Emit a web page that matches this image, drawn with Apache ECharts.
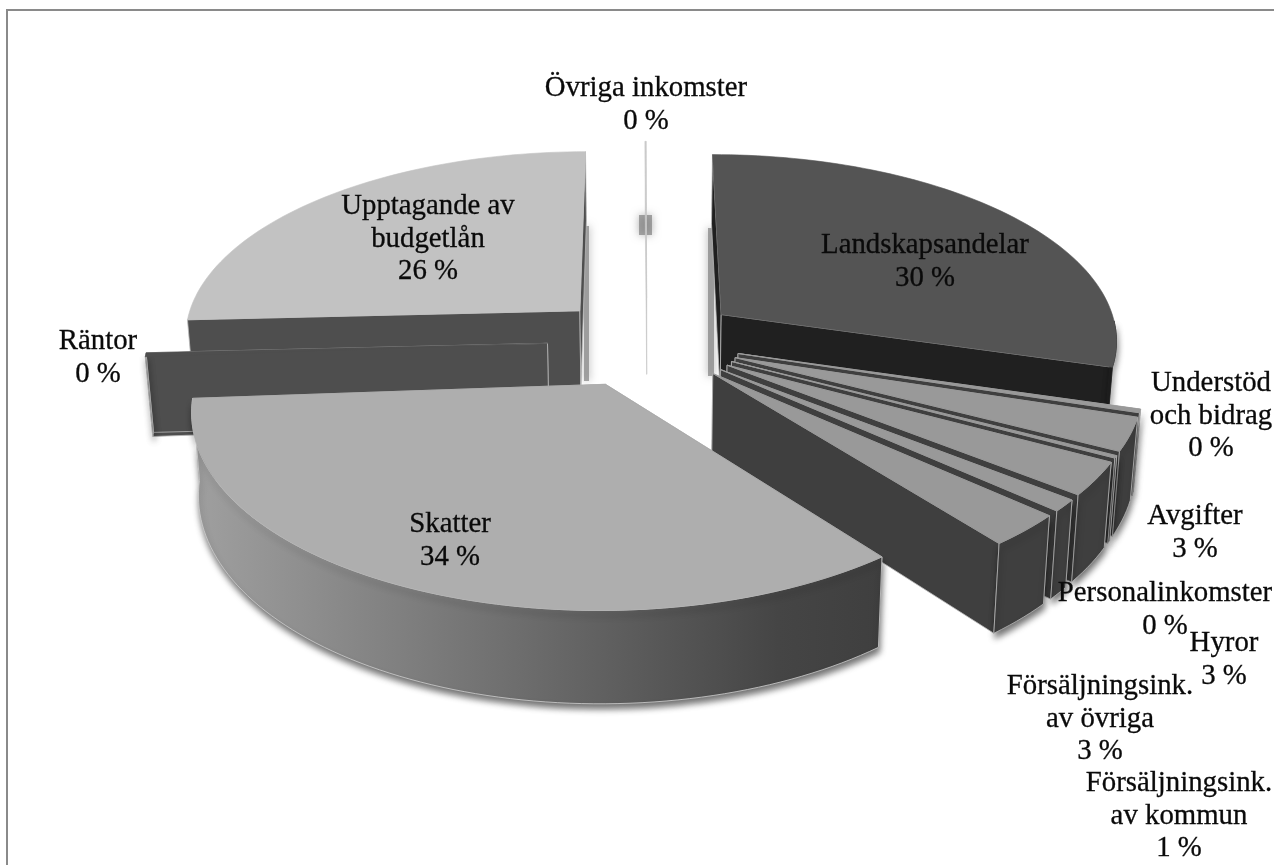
<!DOCTYPE html>
<html><head><meta charset="utf-8">
<style>html,body{margin:0;padding:0;background:#fff}#c{width:1274px;height:865px}</style>
<script src="https://cdn.jsdelivr.net/npm/echarts@6/dist/echarts.min.js"></script>
</head><body><div id="c"></div>
<script>
// Slices in clockwise order from the top of the pie
const categories = ['Landskapsandelar','Understöd\noch bidrag','Avgifter','Personalinkomster','Hyror','Försäljningsink.\nav kommun','Försäljningsink.\nav övriga','Skatter','Räntor','Upptagande av\nbudgetlån','Övriga inkomster'];
const values = [29.6,0.3,2.8,0.2,2.8,1.0,2.75,34.45,0.33,25.72,0.05];
// Styles
const topColors = ['#545454','#999999','#999999','#999999','#999999','#999999','#999999','#aeaeae','#4e4e4e','#c2c2c2','#c8c8c8'];
const wallColors = ['#202020','#3f3f3f','#3f3f3f','#3f3f3f','#3f3f3f','#3f3f3f','#3f3f3f','#3f3f3f','#4e4e4e','#4e4e4e','#c8c8c8'];
const labelCentres = [[925,262],[1211,416],[1195,533],[1165,610],[1224,660],[1179,816],[1100,719],[450,541],[98,358],[428,239],[646,105]];
const explodes = [0.237,0.237,0.237,0.237,0.237,0.237,0.237,0.25,0.25,0.237,0.237];
// Projection of the pie plane
const view = {cx:647, cy:340.5, R:398, A:186, p:0.125, D:79, conv:0.015, startDeg:-0.1};

const total = values.reduce((a,b)=>a+b,0);
const starts = []; let acc = view.startDeg;
values.forEach(v=>{starts.push(acc); acc += v/total*360;});
const rad = d=>d*Math.PI/180;
const mids = values.map((v,i)=>starts[i]+v/total*180);
const order = values.map((v,i)=>i).sort((a,b)=>(-Math.cos(rad(mids[a])))-(-Math.cos(rad(mids[b]))));
const rank = []; order.forEach((idx,r)=>rank[idx]=r);

function proj(x,y,z){
  const s = 1/(1-view.p*y);
  return [view.cx+view.R*x*s*(1-view.conv*z), view.cy+view.A*y*s+view.D*z*s];
}
function renderItem(params, api){
  const i = params.dataIndex;
  const a0 = starts[i], a1 = a0 + api.value(0)/total*360, m = rad((a0+a1)/2);
  const ox = explodes[i]*Math.sin(m), oy = -explodes[i]*Math.cos(m);
  const pt = (deg,z)=>proj(ox+Math.sin(rad(deg)),oy-Math.cos(rad(deg)),z);
  const apex = z=>proj(ox,oy,z);
  const arc = (from,to,z)=>{const n=Math.max(2,Math.ceil(Math.abs(to-from)/1.5)),o=[];
    for(let k=0;k<=n;k++)o.push(pt(from+(to-from)*k/n,z));return o;};
  const base = rank[i]*10;
  const edge = i===10 ? wallColors[i] : '#b9b9b9';
  const wall = d=>({type:'polygon',z2:base+1,shape:{points:[apex(0),pt(d,0),pt(d,1),apex(1)]},
    style:{fill:wallColors[i],stroke:edge,lineWidth:i===10?0.4:0.8}});
  const children = [wall(a0),wall(a1)];
  const r0 = Math.max(a0,92), r1 = Math.min(a1,267);
  if(r1>r0){
    const isSkatter = i===7;
    const fill = isSkatter ? {type:'linear',x:0,y:0,x2:1,y2:0,colorStops:[{offset:0,color:'#a0a0a0'},{offset:0.85,color:'#454545'},{offset:1,color:'#3f3f3f'}]} : wallColors[i];
    children.push({type:'polygon',z2:base+2,shape:{points:arc(r0,r1,0).concat(arc(r1,r0,1))},
      style:{fill:fill,stroke:isSkatter?'#cfcfcf':(i===0?wallColors[i]:edge),lineWidth:0.8,shadowBlur:6,shadowColor:'rgba(0,0,0,0.55)',shadowOffsetX:1,shadowOffsetY:5}});
  }
  children.push({type:'polygon',z2:base+3,shape:{points:[apex(0)].concat(arc(a0,a1,0))},
    style:{fill:topColors[i],stroke:topColors[i],lineWidth:i===10?0.3:0.6}});
  children.push({type:'text',z2:1000,style:{text:categories[i]+'\n'+Math.round(api.value(0))+' %',
    x:labelCentres[i][0],y:labelCentres[i][1],align:'center',verticalAlign:'middle',
    font:'28.8px "Liberation Serif"',lineHeight:32.5,fill:'#0a0a0a',stroke:'#0a0a0a',lineWidth:0.3}});
  return {type:'group',children};
}
const shadow = (x,y,w,h)=>({type:'rect',z:0,shape:{x,y,width:w,height:h},
  style:{fill:'rgba(130,130,130,0.7)',shadowBlur:9,shadowColor:'rgba(130,130,130,0.9)'}});
const chart = echarts.init(document.getElementById('c'),null,{renderer:'canvas'});
chart.setOption({
  animation:false,
  backgroundColor:'#ffffff',
  graphic:[
    {type:'rect',z:0,shape:{x:7,y:10,width:1290,height:900},style:{fill:'none',stroke:'#8a8a8a',lineWidth:2}},
    shadow(584,226,5,155), shadow(708,228,6,148), shadow(639,215,13,20)
  ],
  series:[{type:'custom',coordinateSystem:'none',clip:false,silent:true,
    renderItem,
    data:values.map((v,i)=>({name:categories[i],value:[v]}))}]
});
</script></body></html>
